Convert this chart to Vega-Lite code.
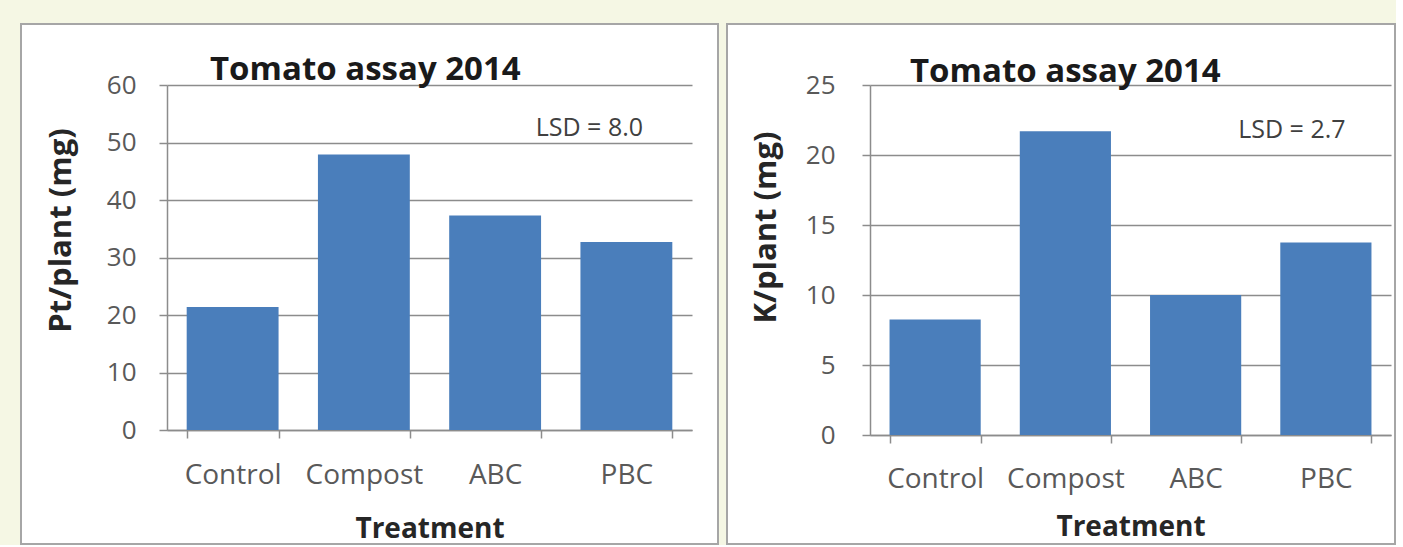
{
  "$schema": "https://vega.github.io/schema/vega-lite/v6.json",
  "background": "#f5f7e4",
  "padding": {"left": 20, "top": 23, "right": 0, "bottom": 0},
  "spacing": 7,
  "config": {
    "font": "Open Sans",
    "view": {"fill": "white", "stroke": "#a6a6a6", "strokeWidth": 2},
    "axis": {
      "labelFont": "Open Sans", "labelColor": "#595959",
      "titleFont": "Open Sans", "titleColor": "#262626", "titleFontWeight": "bold",
      "domainColor": "#8c8c8c", "domainWidth": 1.5,
      "tickColor": "#8c8c8c", "tickWidth": 1.5, "tickSize": 8,
      "gridColor": "#8c8c8c", "gridWidth": 1.5, "gridOpacity": 1
    }
  },
  "hconcat": [
    {
      "width": 697, "height": 520,
      "title": {"text": "Tomato assay 2014", "anchor": "start", "frame": "group", "dx": 189, "offset": -89, "baseline": "alphabetic", "fontSize": 33, "fontWeight": "bold", "color": "#1a1a1a", "font": "Open Sans"},
      "layer": [
        {
          "data": {"values": [
            {"Treatment": "Control", "Pt": 21.4},
            {"Treatment": "Compost", "Pt": 47.9},
            {"Treatment": "ABC", "Pt": 37.3},
            {"Treatment": "PBC", "Pt": 32.7}
          ]},
          "mark": {"type": "bar", "color": "#4a7ebb"},
          "encoding": {
            "x": {"field": "Treatment", "type": "nominal", "sort": null,
              "scale": {"range": [146, 671], "paddingInner": 0.3, "paddingOuter": 0.15},
              "axis": {"title": "Treatment", "labelAngle": 0, "labelFontSize": 28, "titleFontSize": 28, "offset": -114, "tickBand": "extent", "labelPadding": 23, "titlePadding": 26, "grid": false}},
            "y": {"field": "Pt", "type": "quantitative",
              "scale": {"domain": [0, 60], "range": [406, 61], "nice": false, "zero": true},
              "axis": {"title": "Pt/plant (mg)", "values": [0, 10, 20, 30, 40, 50, 60], "offset": -146, "labelFontSize": 26, "labelPadding": 23, "titleFontSize": 31, "titlePadding": 29, "titleY": 206, "grid": true}}
          }
        },
        {
          "data": {"values": [{"label": "LSD = 8.0"}]},
          "mark": {"type": "text", "fontSize": 25, "color": "#404040", "dx": -37, "font": "Open Sans"},
          "encoding": {
            "x": {"datum": "PBC", "type": "nominal"},
            "y": {"datum": 52.5, "type": "quantitative"},
            "text": {"field": "label"}
          }
        }
      ]
    },
    {
      "width": 668, "height": 520,
      "title": {"text": "Tomato assay 2014", "anchor": "start", "frame": "group", "dx": 183, "offset": -91, "baseline": "alphabetic", "fontSize": 33, "fontWeight": "bold", "color": "#1a1a1a", "font": "Open Sans"},
      "layer": [
        {
          "data": {"values": [
            {"Treatment": "Control", "K": 8.25},
            {"Treatment": "Compost", "K": 21.7},
            {"Treatment": "ABC", "K": 10.0},
            {"Treatment": "PBC", "K": 13.75}
          ]},
          "mark": {"type": "bar", "color": "#4a7ebb"},
          "encoding": {
            "x": {"field": "Treatment", "type": "nominal", "sort": null,
              "scale": {"range": [143, 664], "paddingInner": 0.3, "paddingOuter": 0.15},
              "axis": {"title": "Treatment", "labelAngle": 0, "labelFontSize": 28, "titleFontSize": 28, "offset": -109, "tickBand": "extent", "labelPadding": 22, "titlePadding": 20, "grid": false}},
            "y": {"field": "K", "type": "quantitative",
              "scale": {"domain": [0, 25], "range": [411, 61], "nice": false, "zero": true},
              "axis": {"title": "K/plant (mg)", "values": [0, 5, 10, 15, 20, 25], "offset": -143, "labelFontSize": 26, "labelPadding": 27, "titleFontSize": 31, "titlePadding": 23, "titleY": 203, "grid": true}}
          }
        },
        {
          "data": {"values": [{"label": "LSD = 2.7"}]},
          "mark": {"type": "text", "fontSize": 25, "color": "#404040", "dx": -34, "font": "Open Sans"},
          "encoding": {
            "x": {"datum": "PBC", "type": "nominal"},
            "y": {"datum": 21.8, "type": "quantitative"},
            "text": {"field": "label"}
          }
        }
      ]
    }
  ]
}
